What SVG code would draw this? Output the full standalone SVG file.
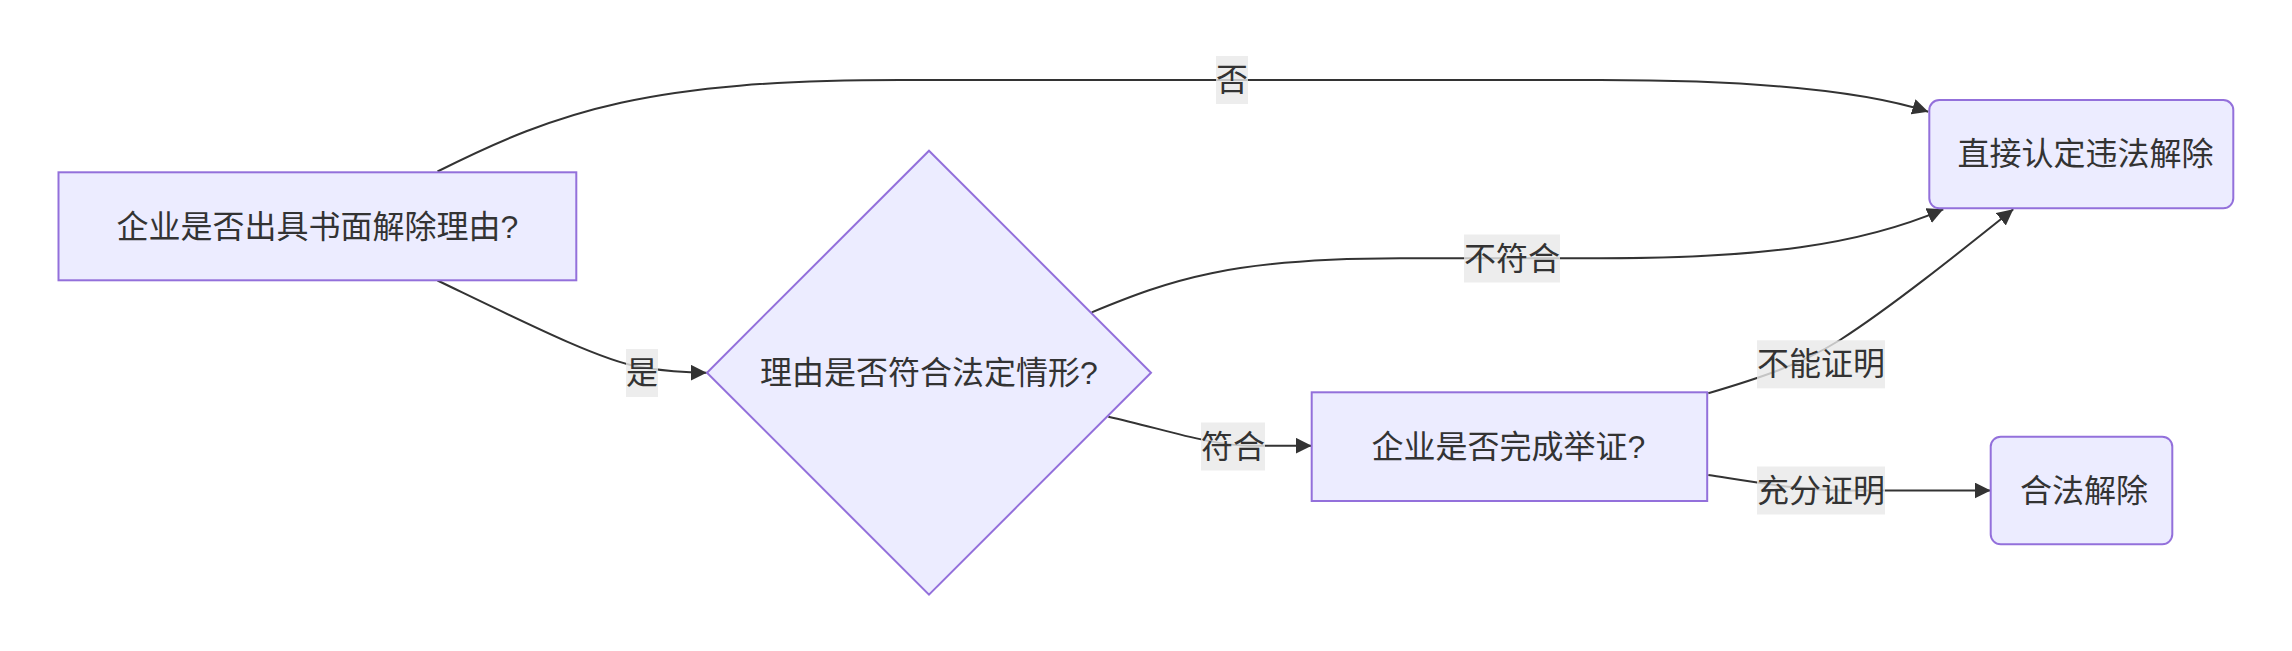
<svg xmlns="http://www.w3.org/2000/svg" width="2292" height="651" viewBox="0 0 2292 651">
<defs>
<style>
.node{fill:#ECECFF;stroke:#9370DB;stroke-width:2}
.edge{fill:none;stroke:#333333;stroke-width:2}
.lbl{fill:rgb(232,232,232);fill-opacity:0.8}
text{font-family:"Liberation Sans","Noto Sans CJK SC",sans-serif;font-size:32px;fill:#333333;text-anchor:middle}
</style>
<marker id="arrow" viewBox="0 0 10 10" refX="10" refY="5" markerUnits="userSpaceOnUse" markerWidth="16" markerHeight="16" orient="auto">
<path d="M0,0 L10,5 L0,10 z" fill="#333333"/>
</marker>
</defs>
<rect width="2292" height="651" fill="#ffffff"/>
<g id="edges">
<path class="edge" marker-end="url(#arrow)" d="M437.5,171.5 C560,110 650,80 900,80 L1600,80 C1770,80 1870,93 1928.3,111.7"/>
<path class="edge" marker-end="url(#arrow)" d="M437.5,280.5 C530,325 600,360 640,367 C670,372 690,372.7 706.7,372.7"/>
<path class="edge" marker-end="url(#arrow)" d="M1091.7,312.3 C1170,280 1230,258.3 1400,258.3 L1600,258.3 C1760,258.3 1860,245 1943.3,209.3"/>
<path class="edge" marker-end="url(#arrow)" d="M1108.3,416.7 C1160,428 1210,445.7 1250,445.7 L1311.7,445.7"/>
<path class="edge" marker-end="url(#arrow)" d="M1708.3,393.3 C1760,378 1800,365 1840,340 C1890,308 1960,252 2013.3,209.3"/>
<path class="edge" marker-end="url(#arrow)" d="M1708.3,475 C1760,483 1800,490.5 1850,490.5 L1990.7,490.5"/>
</g>
<g id="edge-labels">
<g id="label-no"><rect class="lbl" x="1216" y="56" width="32" height="48"/><text x="1232" y="91">否</text></g>
<g id="label-yes"><rect class="lbl" x="626" y="349" width="32" height="48"/><text x="642" y="384">是</text></g>
<g id="label-notmatch"><rect class="lbl" x="1464" y="234.5" width="96" height="48"/><text x="1512" y="269.5">不符合</text></g>
<g id="label-match"><rect class="lbl" x="1201" y="422.5" width="64" height="48"/><text x="1233" y="457.5">符合</text></g>
<g id="label-cannot"><rect class="lbl" x="1757" y="340.3" width="128" height="48"/><text x="1821" y="375.3">不能证明</text></g>
<g id="label-proved"><rect class="lbl" x="1757" y="466.5" width="128" height="48"/><text x="1821" y="501.5">充分证明</text></g>
</g>
<g id="node-A">
<rect class="node" x="58.5" y="172.3" width="517.8" height="108"/>
<text x="317.4" y="237.5">企业是否出具书面解除理由?</text>
</g>
<g id="node-B">
<polygon class="node" points="929,150.7 1151,372.7 929,594.7 707,372.7"/>
<text x="929" y="384">理由是否符合法定情形?</text>
</g>
<g id="node-C">
<rect class="node" x="1929.3" y="100" width="304" height="108.3" rx="10" ry="10"/>
<text x="2085.5" y="165.3">直接认定违法解除</text>
</g>
<g id="node-D">
<rect class="node" x="1311.7" y="392.3" width="395.5" height="108.7"/>
<text x="1508.5" y="457.8">企业是否完成举证?</text>
</g>
<g id="node-E">
<rect class="node" x="1990.7" y="436.7" width="181.6" height="107.6" rx="10" ry="10"/>
<text x="2084" y="501.6">合法解除</text>
</g>
</svg>
